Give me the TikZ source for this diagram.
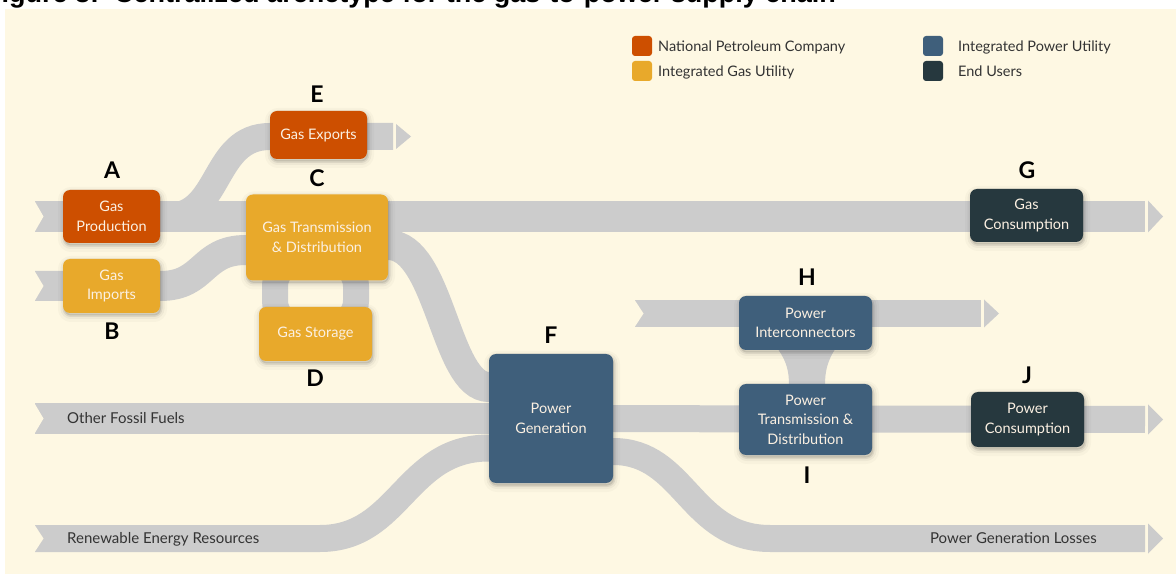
\documentclass[tikz,border=0pt]{standalone}
\usepackage{fontspec}
\setmainfont{Lato}
\newfontfamily\headfont{Liberation Sans}
\usetikzlibrary{calc}

\definecolor{cream}{HTML}{FEF8E3}
\definecolor{bandgray}{HTML}{CCCCCC}
\definecolor{npc}{HTML}{CD4F00}
\definecolor{gasutil}{HTML}{E8A92B}
\definecolor{powutil}{HTML}{3F5F7B}
\definecolor{enduser}{HTML}{26383E}
\definecolor{boxtext}{HTML}{FBF0E2}
\definecolor{inktext}{HTML}{333333}

\pgfdeclarelayer{back}
\pgfdeclarelayer{bands}
\pgfsetlayers{back,bands,main}

% arrow head at the end of a flow band: #1 end point, #2 half height
\newcommand\bandtip[2]{\fill[bandgray] ($(#1)+(3,-#2)$) -- ($(#1)+(18,0)$) -- ($(#1)+(3,#2)$) -- cycle;}
% chevron cut at the start of a flow band
\newcommand\bandnotch[2]{\fill[cream] ($(#1)+(-1,{-#2-1})$) -- ($(#1)+(8.5,0)$) -- ($(#1)+(-1,{#2+1})$) -- cycle;}

\tikzset{
  softshadow/.style={
    preaction={fill=black, opacity=0.10, transform canvas={xshift=1pt, yshift=-2.5pt}},
    preaction={draw=black, line width=3pt, opacity=0.07, transform canvas={xshift=1pt, yshift=-2.5pt}},
    preaction={draw=black, line width=7pt, opacity=0.04, transform canvas={xshift=1pt, yshift=-2.5pt}},
    preaction={draw=black, line width=12pt, opacity=0.025, transform canvas={xshift=1pt, yshift=-3pt}}},
  box/.style={rounded corners=7pt, text=boxtext, align=center, inner sep=0pt,
    font=\fontsize{14.5}{19.5}\selectfont, softshadow},
  boxsize/.style 2 args={minimum width=#1pt, minimum height=#2pt},
  letter/.style={font=\fontsize{23}{23}\selectfont\bfseries, inner sep=0pt},
  band/.style={draw=bandgray, line width=30pt},
  bandlabel/.style={font=\fontsize{15}{15}\selectfont, text=inktext, inner sep=0pt},
  legsq/.style={fill=#1, rounded corners=3pt, minimum size=20pt, inner sep=0pt},
  legtext/.style={font=\fontsize{14.5}{14.5}\selectfont, text=inktext, inner sep=0pt, anchor=base west},
}

\begin{document}
\begin{tikzpicture}[x=1pt, y=-1pt]
\useasboundingbox (0,0) rectangle (1176,577);

% ---------- page, caption and panel ----------
\begin{pgfonlayer}{back}
  \fill[white] (0,0) rectangle (1176,577);
  \node[anchor=base west, inner sep=0pt, font=\headfont\bfseries\fontsize{27}{27}\selectfont] (title) at (-15,3)
    {Figure 3:\ \ Centralized archetype for the gas-to-power supply chain};
  \fill[cream] (5,9) rectangle (1176,574);
\end{pgfonlayer}

% ---------- supply chain stages ----------
\node[box, boxsize={97}{53}, fill=npc]     (A) at (111.5,216.5) {Gas\\Production};
\node[box, boxsize={97}{54}, fill=gasutil] (B) at (111.5,286)   {Gas\\Imports};
\node[box, boxsize={142}{86}, fill=gasutil](C) at (317,237.5)   {Gas Transmission\\\& Distribution};
\node[box, boxsize={113}{54}, fill=gasutil](D) at (315.5,334)   {Gas Storage};
\node[box, boxsize={97}{48}, fill=npc]     (E) at (318.5,135)   {Gas Exports};
\node[box, boxsize={124}{129}, fill=powutil](F) at (551,418.5)  {Power\\Generation};
\node[box, boxsize={113}{53}, fill=enduser](G) at (1026.5,215.5){Gas\\Consumption};
\node[box, boxsize={133}{54}, fill=powutil](H) at (805.5,323)   {Power\\Interconnectors};
\node[box, boxsize={133}{71}, fill=powutil](I) at (805.5,419.5) {Power\\Transmission \&\\Distribution};
\node[box, boxsize={113}{55}, fill=enduser](J) at (1027.5,419.5){Power\\Consumption};

% ---------- stage letters ----------
\node[letter] (lA) at (112,170) {A};
\node[letter] (lB) at (112,331) {B};
\node[letter] (lC) at (317,178) {C};
\node[letter] (lD) at (315,378) {D};
\node[letter] (lE) at (317,94)  {E};
\node[letter] (lF) at (551,335) {F};
\node[letter] (lG) at (1027,170){G};
\node[letter] (lH) at (807,277) {H};
\node[letter] (lI) at (807,475) {I};
\node[letter] (lJ) at (1027,375){J};

% ---------- flow bands ----------
\coordinate (gasIn)  at (35,216.5);
\coordinate (gasOut) at (1145,216.5);
\coordinate (impIn)  at (35,286);
\coordinate (ofIn)   at (35,418.5);
\coordinate (reIn)   at (35,538.5);
\coordinate (reBend) at (320,538.5);
\coordinate (pwOut)  at (1145,419.5);
\coordinate (lossBend) at (770,538.5);
\coordinate (lossOut)  at (1145,538.5);
\coordinate (hIn)    at (635,313.5);
\coordinate (hOut)   at (981,313.5);
\coordinate (exSplit) at (168,216.5);
\coordinate (exOut)  at (393,136.5);

\begin{pgfonlayer}{bands}
  % gas
  \draw[band, line width=31pt] (gasIn) -- (gasOut);
  \draw[band] (impIn) -- (B.center) -- (B.east)
     .. controls +(45,0) and +(-45,0) .. ([yshift=-12.5pt]C.west) -- ++(10,0);
  \draw[band, line width=27pt] (exSplit) .. controls (222,216.5) and (212,136.5) .. (E.west |- exOut) -- (exOut);
  \draw[band, line width=26pt, rounded corners=24pt] (275,262) rectangle (356,325);
  \draw[band] ([yshift=-7.5pt]C.east) -- ++(-10,0) -- ++(10,0)
     .. controls (440,245) and (445,387) .. ([yshift=31.5pt]F.west) -- ++(10,0);
  % other inputs to generation
  \draw[band] (ofIn) -- (F.center);
  \draw[band, line width=27pt] (reIn) -- (reBend)
     .. controls (400,538.5) and (405,448) .. ([yshift=-29.5pt]F.west) -- ++(10,0);
  % power
  \draw[band, line width=27pt] (F.center) -- (pwOut);
  \draw[band, line width=27pt] ([yshift=-33pt]F.east) -- ++(-10,0) -- ++(10,0)
     .. controls (685,451.5) and (690,538.5) .. (lossBend) -- (lossOut);
  \draw[band, line width=27pt] (hIn) -- (hOut);
  \fill[bandgray] ([xshift=-27.5pt, yshift=1pt]H.south)
     .. controls (787,362) and (789,372) .. (789,385) -- (825,385)
     .. controls (825,372) and (827,362) .. ([xshift=29.5pt, yshift=1pt]H.south) -- cycle;
  % band starts and heads
  \bandnotch{gasIn}{15.5}
  \bandnotch{impIn}{15}
  \bandnotch{ofIn}{15}
  \bandnotch{reIn}{13.5}
  \bandnotch{hIn}{13.5}
  \bandtip{gasOut}{16}
  \bandtip{exOut}{12.5}
  \bandtip{hOut}{14}
  \bandtip{pwOut}{15}
  \bandtip{lossOut}{15}
\end{pgfonlayer}

% ---------- band captions ----------
\node[bandlabel, anchor=base west] (tOF)   at (67,424)    {Other Fossil Fuels};
\node[bandlabel, anchor=base west] (tRE)   at (67,543.5)  {Renewable Energy Resources};
\node[bandlabel, anchor=base east] (tLoss) at (1097,543.5){Power Generation Losses};

% ---------- legend ----------
\node[legsq=npc]     (kNPC) at (642,46) {};
\node[legsq=gasutil] (kIGU) at (642,71) {};
\node[legsq=powutil] (kIPU) at (933,46) {};
\node[legsq=enduser] (kEU)  at (933,71) {};
\node[legtext] (kNPCt) at (658,51.3) {National Petroleum Company};
\node[legtext] (kIGUt) at (658,76.3) {Integrated Gas Utility};
\node[legtext] (kIPUt) at (958,51.3) {Integrated Power Utility};
\node[legtext] (kEUt)  at (958,76.3) {End Users};
\end{tikzpicture}
\end{document}
